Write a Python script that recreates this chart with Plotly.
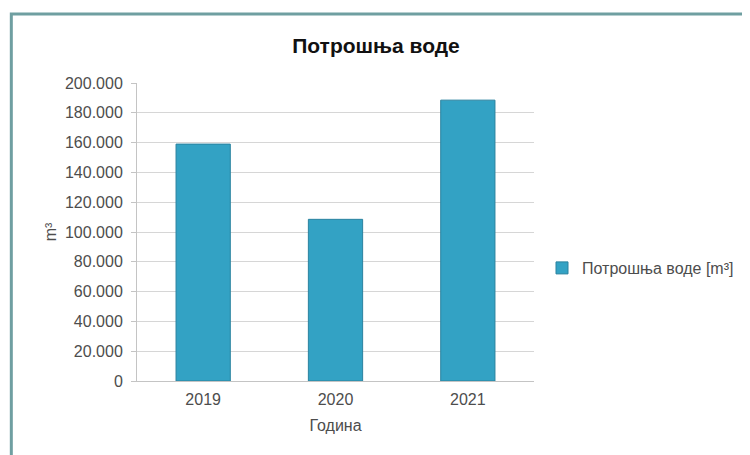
import plotly.graph_objects as go

years = ["2019", "2020", "2021"]
consumption = [159000, 108500, 188500]
series_name = "Потрошња воде [m³]"
title = "Потрошња воде"
x_title = "Година"
y_title = "m³"

# figure sits at an 8px page offset
W, H = 742, 447
L, T = 129, 75
PR, PB = 527, 373
R, B = W - PR, H - PB
pw, ph = PR - L, PB - T

def px_x(p):
    return (p - L) / pw

def px_y(p):
    return (PB - p) / ph

fig = go.Figure()
fig.add_trace(go.Bar(
    x=years, y=consumption, name=series_name,
    marker=dict(color="#33a2c4", line=dict(color="#2a829f", width=1)),
    width=0.41, showlegend=True,
))

fig.update_layout(
    width=W, height=H,
    margin=dict(l=L, r=R, t=T, b=B),
    paper_bgcolor="white", plot_bgcolor="white",
    separators=",.",
    font=dict(family="Liberation Sans, Arial, sans-serif", color="#4d4d4d", size=16),
    title=dict(text="<b>" + title + "</b>", x=368 / W, xanchor="center",
               y=1 - 38 / H, yanchor="middle",
               font=dict(size=21, color="#111111")),
    showlegend=True,
    legend=dict(x=px_x(534), y=px_y(260), xanchor="left", yanchor="middle",
                font=dict(size=16, color="#4d4d4d"), bgcolor="rgba(0,0,0,0)"),
    shapes=[dict(type="rect", xref="paper", yref="paper",
                 x0=px_x(3), x1=px_x(770), y0=px_y(480), y1=px_y(6),
                 line=dict(color="#6f9fa1", width=3), layer="below")],
)
fig.update_xaxes(
    title=dict(text=x_title, font=dict(size=16, color="#4d4d4d"), standoff=12),
    showline=True, linecolor="#c4c4c4", linewidth=1,
    ticks="", ticklabelstandoff=4, tickfont=dict(size=16, color="#4d4d4d"),
)
fig.update_yaxes(
    title=dict(text=y_title, font=dict(size=16, color="#4d4d4d"), standoff=4),
    range=[0, 200000], dtick=20000, tickformat=",d",
    showgrid=True, gridcolor="#d6d6d6", gridwidth=1,
    showline=True, linecolor="#c4c4c4", linewidth=1,
    ticks="outside", ticklen=5, tickcolor="#c4c4c4", ticklabelstandoff=5,
    tickfont=dict(size=16, color="#4d4d4d"),
    zeroline=False,
)

fig.write_html("out.html")
